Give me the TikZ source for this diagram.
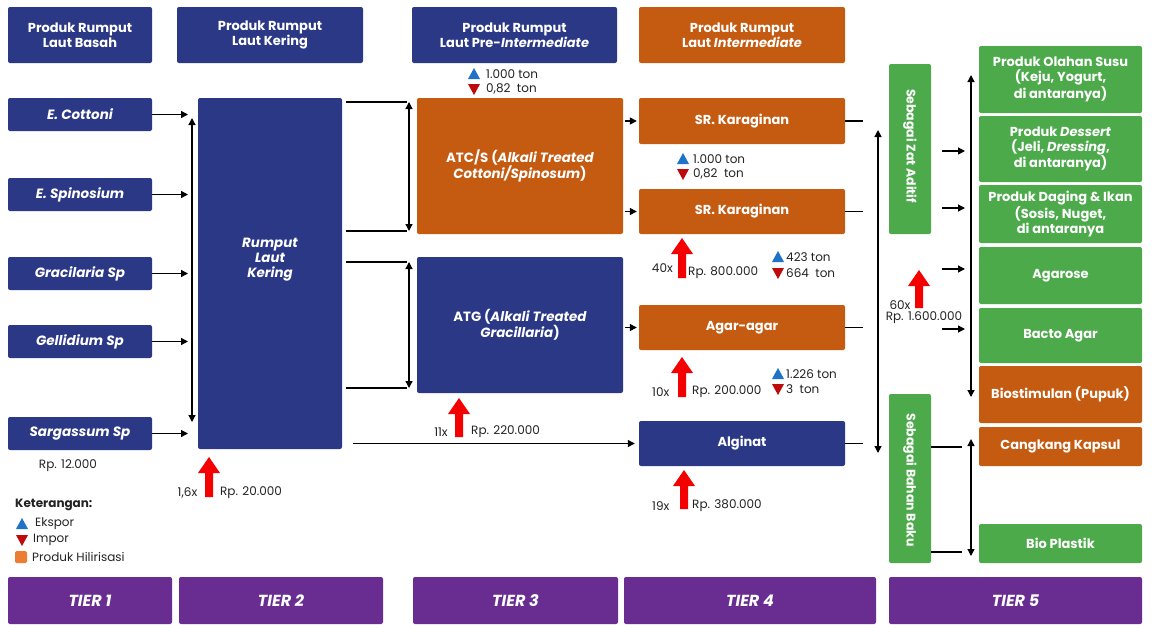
\documentclass[tikz,border=0pt]{standalone}
\usepackage{fontspec}
\setmainfont{Poppins}
\usetikzlibrary{arrows.meta,calc}
\definecolor{navy}{RGB}{43,56,134}
\definecolor{orng}{RGB}{197,90,17}
\definecolor{grn}{RGB}{76,170,75}
\definecolor{purp}{RGB}{105,45,145}
\definecolor{ekspor}{RGB}{30,115,200}
\definecolor{impor}{RGB}{190,10,10}
\definecolor{legor}{RGB}{237,125,49}
\definecolor{redarr}{RGB}{245,0,0}
\definecolor{txt}{RGB}{35,35,35}
\newcommand\redup[3]{\fill[redarr] ({#1-4},#3) -- ({#1-4},{#2+16}) -- ({#1-11},{#2+16}) -- (#1,#2) -- ({#1+11},{#2+16}) -- ({#1+4},{#2+16}) -- ({#1+4},#3) -- cycle;}
\newcommand\ektri[2]{\fill[ekspor] ({#1-6},{#2+5}) -- ({#1+6},{#2+5}) -- (#1,{#2-6}) -- cycle;}
\newcommand\imtri[2]{\fill[impor] ({#1-6},{#2-5}) -- ({#1+6},{#2-5}) -- (#1,{#2+6}) -- cycle;}
\begin{document}
\begin{tikzpicture}[x=1pt,y=-1pt,
 box/.style={rounded corners=2pt, text=white, align=center, inner sep=0pt, font=\bfseries\fontsize{13}{14.5}\selectfont},
 nv/.style={box, fill=navy}, og/.style={box, fill=orng}, gr/.style={box, fill=grn},
 sp/.style={nv, minimum width=144pt, minimum height=33pt, font=\bfseries\itshape\fontsize{13.5}{15}\selectfont},
 rb/.style={box, minimum width=163pt, font=\bfseries\fontsize{13}{15}\selectfont},
 tier/.style={box, fill=purp, minimum height=47pt, font=\bfseries\itshape\fontsize{16}{18}\selectfont},
 conn/.style={line width=1.3pt, black},
 arr/.style={conn, -{Triangle[length=7pt,width=7pt]}},
 darr/.style={conn, {Triangle[length=7pt,width=7pt]}-{Triangle[length=7pt,width=7pt]}},
 small/.style={font=\fontsize{12}{13}\selectfont, inner sep=0pt, text=txt},
 rot/.style={rotate=-90, text=white, font=\bfseries\fontsize{12.5}{14}\selectfont, inner sep=0pt},
]
\fill[white] (0,0) rectangle (1153,627);
\useasboundingbox (0,0) rectangle (1153,627);

% headers
\node[nv, minimum width=144pt, minimum height=56pt] (h1) at (80,35) {Produk Rumput\\Laut Basah};
\node[nv, minimum width=186pt, minimum height=56pt] (h2) at (270,35) {Produk Rumput\\Laut Kering};
\node[nv, minimum width=205pt, minimum height=56pt] (h3) at (514.5,35) {Produk Rumput\\Laut Pre-\textit{Intermediate}};
\node[og, minimum width=206pt, minimum height=56pt] (h4) at (742,35) {Produk Rumput\\Laut \textit{Intermediate}};

% tier 1
\node[sp] (cottoni) at (80,114.5) {E. Cottoni};
\node[sp] (spinosium) at (80,194.5) {E. Spinosium};
\node[sp] (gracilaria) at (80,273.5) {Gracilaria Sp};
\node[sp] (gellidium) at (80,341.5) {Gellidium Sp};
\node[sp] (sargassum) at (80,433.5) {Sargassum Sp};

% tier 2
\node[nv, minimum width=144pt, minimum height=351pt] (rlk) at (270,273.5) {};
\node[text=white, align=center, inner sep=0pt, font=\bfseries\itshape\fontsize{13.4}{15}\selectfont] (rlklabel) at (270,260) {Rumput\\Laut\\Kering};

% tier 3
\node[og, minimum width=206pt, minimum height=136pt, font=\bfseries\fontsize{13.4}{16}\selectfont] (atcs) at (520,166) {ATC/S (\textit{Alkali Treated}\\\textit{Cottoni/Spinosum})};
\node[nv, minimum width=206pt, minimum height=136pt, font=\bfseries\fontsize{13.4}{16}\selectfont] (atg) at (520,325) {ATG (\textit{Alkali Treated}\\\textit{Gracillaria})};

% tier 4
\node[og, minimum width=206pt, minimum height=46pt] (sr1) at (742,121) {SR. Karaginan};
\node[og, minimum width=206pt, minimum height=45pt] (sr2) at (742,211.5) {SR. Karaginan};
\node[og, minimum width=206pt, minimum height=45pt] (agar) at (742,327.5) {Agar-agar};
\node[nv, minimum width=206pt, minimum height=45pt] (alginat) at (742,443.5) {Alginat};

% tier 5
\node[gr, minimum width=42pt, minimum height=170pt] (zat) at (910,149) {};
\node[rot] (zatlabel) at (910,146) {Sebagai Zat Aditif};
\node[gr, minimum width=42pt, minimum height=169pt] (bahan) at (910,478.5) {};
\node[rot] (bahanlabel) at (910,480) {Sebagai Bahan Baku};

\node[rb, fill=grn, minimum height=67pt] (susu) at (1060.5,79.5) {Produk Olahan Susu\\(Keju, Yogurt,\\di antaranya)};
\node[rb, fill=grn, minimum height=66pt] (dessert) at (1060.5,149) {Produk \textit{Dessert}\\(Jeli, \textit{Dressing},\\di antaranya)};
\node[rb, fill=grn, minimum height=58pt] (daging) at (1060.5,214) {Produk Daging \& Ikan\\(Sosis, Nuget,\\di antaranya};
\node[rb, fill=grn, minimum height=57pt] (agarose) at (1060.5,275.5) {Agarose};
\node[rb, fill=grn, minimum height=55pt] (bacto) at (1060.5,335.5) {Bacto Agar};
\node[rb, fill=orng, minimum height=57pt] (biostim) at (1060.5,394.5) {Biostimulan (Pupuk)};
\node[rb, fill=orng, minimum height=39pt] (kapsul) at (1060.5,446.5) {Cangkang Kapsul};
\node[rb, fill=grn, minimum height=39pt] (bioplastik) at (1060.5,543.5) {Bio Plastik};

% tiers
\node[tier, minimum width=164pt] (t1) at (90,600.5) {TIER 1};
\node[tier, minimum width=204pt] (t2) at (281,600.5) {TIER 2};
\node[tier, minimum width=205pt] (t3) at (515.5,600.5) {TIER 3};
\node[tier, minimum width=252pt] (t4) at (750,600.5) {TIER 4};
\node[tier, minimum width=253pt] (t5) at (1015.5,600.5) {TIER 5};

% connectors tier1 -> tier2
\coordinate (j1) at (188,0);
\foreach \n in {cottoni,spinosium,gracilaria,gellidium,sargassum}
  \draw[arr] (\n.east) -- (\n.east -| j1);
\coordinate (v1t) at (192,118);
\coordinate (v1b) at (192,422);
\draw[darr] (v1t) -- (v1b);

% tier2 -> tier3
\coordinate (r1) at (409,102);
\coordinate (r2) at (409,231);
\coordinate (r3) at (409,262);
\coordinate (r4) at (409,388);
\foreach \c in {r1,r2,r3,r4}
  \draw[conn] ([xshift=4pt]rlk.east |- \c) -- ([xshift=-2pt]\c);
\draw[darr] (r1) -- (r2);
\draw[darr] (r3) -- (r4);
\draw[arr] ([xshift=11pt]rlk.east |- alginat.west) -- ([xshift=-4pt]alginat.west);

% tier3 -> tier4
\draw[arr] ([xshift=2pt]atcs.east |- sr1.west) -- ([xshift=-2pt]sr1.west);
\draw[arr] ([xshift=2pt]atcs.east |- sr2.west) -- ([xshift=-2pt]sr2.west);
\draw[arr] ([xshift=2pt]atg.east |- agar.west) -- ([xshift=-2pt]agar.west);

% tier4 -> tier5
\foreach \n in {sr1,sr2,agar,alginat}
  \draw[conn] (\n.east) -- ++(18,0);
\coordinate (v4t) at (878,130);
\coordinate (v4b) at (878,453);
\draw[darr] (v4t) -- (v4b);

\coordinate (g1) at (965,151);
\coordinate (g2) at (965,208);
\coordinate (g3) at (965,269);
\coordinate (g4) at (965,329);
\foreach \c in {g1,g2,g3,g4}
  \draw[arr] ([xshift=-23pt]\c) -- (\c);
\coordinate (v5t) at (971,75);
\coordinate (v5b) at (971,397);
\draw[darr] (v5t) -- (v5b);

\coordinate (b1) at (962,447);
\coordinate (b2) at (962,552);
\draw[conn] (bahan.east |- b1) -- (b1);
\draw[conn] (bahan.east |- b2) -- (b2);
\coordinate (v6t) at (971,439);
\coordinate (v6b) at (971,556);
\draw[darr] (v6t) -- (v6b);

% red value arrows
\redup{209}{457}{497}
\redup{459}{398}{437}
\redup{682}{238}{278}
\redup{682}{357}{397}
\redup{684}{470}{509}
\redup{919}{270}{308}

% price labels
\node[small] (p1) at (68,466) {Rp. 12.000};
\node[small] (m2) at (187.5,493) {1,6x};
\node[small, anchor=west] (p2) at (220,493) {Rp. 20.000};
\node[small] (m3) at (441,432) {11x};
\node[small, anchor=west] (p3) at (471,432) {Rp. 220.000};
\node[small, anchor=east] (m4a) at (673,268) {40x};
\node[small, anchor=west] (p4a) at (688,273) {Rp. 800.000};
\node[small, anchor=west] (m4b) at (652,392) {10x};
\node[small, anchor=west] (p4b) at (692,392) {Rp. 200.000};
\node[small, anchor=west] (m4c) at (652,506) {19x};
\node[small, anchor=west] (p4c) at (692,506) {Rp. 380.000};
\node[small] (m5) at (900,305) {60x};
\node[small] (p5) at (924,318) {Rp. 1.600.000};

% export / import
\ektri{474}{74} \node[small, anchor=west] (e1) at (486,74) {1.000 ton};
\imtri{474}{89} \node[small, anchor=west] (i1) at (486,89) {0,82\ \ ton};
\ektri{683}{159} \node[small, anchor=west] (e2) at (693,159) {1.000 ton};
\imtri{683}{174} \node[small, anchor=west] (i2) at (693,174) {0,82\ \ ton};
\ektri{778}{257} \node[small, anchor=west] (e3) at (786,257) {423 ton};
\imtri{778}{273} \node[small, anchor=west] (i3) at (786,273) {664\ \ ton};
\ektri{778}{374} \node[small, anchor=west] (e4) at (786,374) {1.226 ton};
\imtri{778}{389} \node[small, anchor=west] (i4) at (786,389) {3\ \ ton};

% legend
\node[small, anchor=west, font=\bfseries\fontsize{12}{13}\selectfont] (ket) at (15,505) {Keterangan:};
\ektri{22}{524} \node[small, anchor=west] (lek) at (35,524) {Ekspor};
\imtri{22}{540} \node[small, anchor=west] (lim) at (33,540) {Impor};
\fill[legor, rounded corners=1.5pt] (15,551) rectangle (27,563);
\node[small, anchor=west] (lhil) at (32,557) {Produk Hilirisasi};
\end{tikzpicture}
\end{document}
